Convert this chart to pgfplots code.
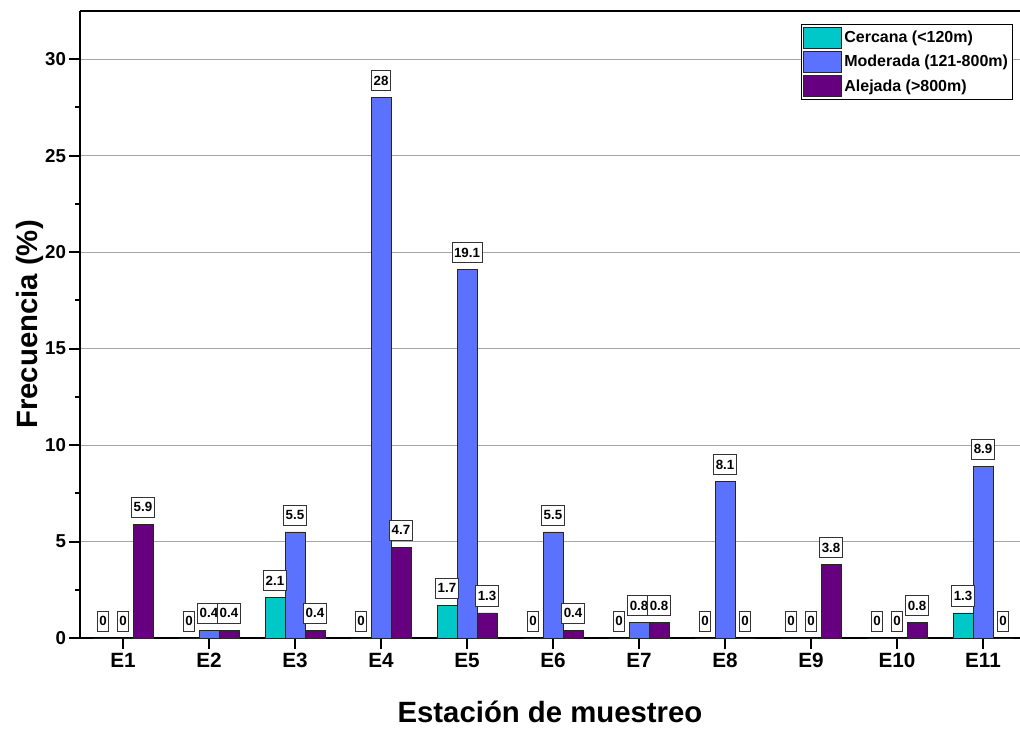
\documentclass[border=0pt]{standalone}
\usepackage{fontspec}
\setmainfont{Liberation Sans}
\usepackage{pgfplots}
\pgfplotsset{compat=1.18}
\definecolor{cerc}{RGB}{0,200,200}
\definecolor{mod}{RGB}{90,114,255}
\definecolor{alej}{RGB}{102,0,128}

% frecuencia (%) por estacion
\pgfplotstableread{
x cerc mod alej
1  0   0    5.9
2  0   0.4  0.4
3  2.1 5.5  0.4
4  0   28   4.7
5  1.7 19.1 1.3
6  0   5.5  0.4
7  0   0.8  0.8
8  0   8.1  0
9  0   0    3.8
10 0   0    0.8
11 1.3 8.9  0
}\datos

\begin{document}
\begin{tikzpicture}
\begin{axis}[
  name=ax,
  scale only axis,
  width=705pt, height=470.25pt,
  ybar=0pt, bar width=0.2326,
  xmin=0.5, xmax=11.43,
  ymin=0, ymax=32.5,
  xtick={1,...,11},
  xticklabels={E1,E2,E3,E4,E5,E6,E7,E8,E9,E10,E11},
  ytick={0,5,...,30},
  minor y tick num=1,
  axis y line*=left, axis x line*=bottom,
  axis line style={line width=1.5pt},
  tick style={line width=1.5pt, black},
  major tick length=8pt, minor tick length=3.5pt,
  tick align=outside,
  ymajorgrids,
  major grid style={gray!70, line width=0.75pt},
  /pgf/number format/assume math mode=true,
  yticklabel style={font=\bfseries\fontsize{14}{16}\selectfont, xshift=1pt},
  xticklabel style={font=\bfseries\fontsize{15.5}{18}\selectfont},
  xlabel={Estación de muestreo},
  ylabel={Frecuencia (\%)},
  xlabel style={font=\bfseries\fontsize{22}{26}\selectfont, at={(axis description cs:0.5,-0.134)}, anchor=base},
  ylabel style={font=\bfseries\fontsize{22}{26}\selectfont, at={(axis description cs:-0.0447,0.5)}, anchor=base},
  nodes near coords,
  every node near coord/.append style={draw=black!80, fill=white, line width=0.5pt,
    font=\bfseries\fontsize{10}{12}\selectfont, inner xsep=1.5pt, inner ysep=4pt,
    anchor=south, yshift=5pt},
  legend style={at={(rel axis cs:0.9926,0.979)}, anchor=north east,
    draw=black, line width=0.6pt, fill=white, inner sep=1.5pt, row sep=2pt,
    font=\bfseries\fontsize{12}{14}\selectfont},
  legend cell align=left,
  legend image code/.code={\draw[#1, line width=0.5pt] (0pt,-7.9pt) rectangle (28.5pt,7.9pt);},
]
\addplot[fill=cerc, draw=black!85, line width=0.5pt] table[x=x, y=cerc] {\datos};
\addplot[fill=mod, draw=black!85, line width=0.5pt] table[x=x, y=mod] {\datos};
\addplot[fill=alej, draw=black!85, line width=0.5pt] table[x=x, y=alej] {\datos};
\legend{Cercana (<120m), Moderada (121-800m), Alejada (>800m)}
\end{axis}
\draw[line width=1.5pt] (ax.north west) -- (ax.north east);
\pgfresetboundingbox
\path ([xshift=-60pt,yshift=-68.25pt]ax.south west) rectangle ([yshift=8.25pt]ax.north east);
\end{tikzpicture}
\end{document}
